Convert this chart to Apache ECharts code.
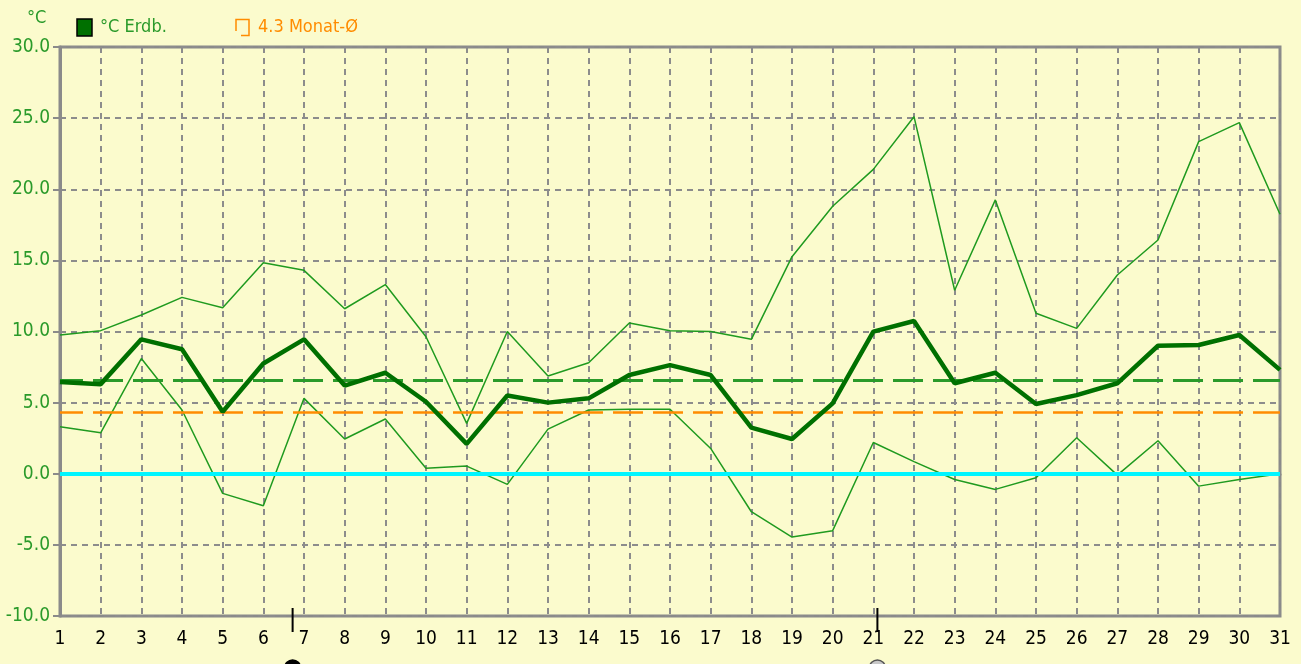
<!DOCTYPE html>
<html>
<head>
<meta charset="utf-8">
<script src="https://cdn.jsdelivr.net/npm/echarts@6/dist/echarts.min.js"></script>
<style>
html,body{margin:0;padding:0;background:#FBFBCD;}
#c{width:1301px;height:664px;}
</style>
</head>
<body>
<div id="c"></div>
<script>
var days = [];
for (var d = 1; d <= 31; d++) days.push(String(d));
var meanTemp = [6.45, 6.3, 9.45, 8.75, 4.36, 7.75, 9.45, 6.2, 7.1, 5.06, 2.1, 5.5, 5.0, 5.3, 6.94, 7.64, 6.94, 3.24, 2.44, 4.95, 9.99, 10.74, 6.36, 7.1, 4.9, 5.53, 6.36, 9.0, 9.05, 9.75, 7.3];
var maxTemp = [9.75, 10.06, 11.16, 12.4, 11.67, 14.84, 14.3, 11.6, 13.3, 9.63, 3.54, 10.0, 6.87, 7.8, 10.6, 10.06, 10.0, 9.45, 15.26, 18.8, 21.4, 25.1, 12.9, 19.25, 11.28, 10.22, 13.97, 16.43, 23.35, 24.68, 18.24];
var minTemp = [3.3, 2.88, 8.1, 4.48, -1.38, -2.25, 5.3, 2.44, 3.85, 0.38, 0.54, -0.75, 3.14, 4.48, 4.53, 4.53, 1.78, -2.67, -4.45, -4.0, 2.2, 0.85, -0.4, -1.1, -0.28, 2.53, -0.1, 2.32, -0.87, -0.4, 0.0];
var periodMean = 6.6;
var monthMean = 4.3;
var zeroLine = 0;
var yTicks = {min: -10, max: 30, step: 5};
var cursorDays = [6.72, 21.1];
var legendLabels = ['°C Erdb.', '4.3 Monat-Ø'];
var unitLabel = '°C';

var FONT = "'DejaVu Sans Condensed','Liberation Sans Narrow',sans-serif";
var chart = echarts.init(document.getElementById('c'));
var gridDash = {color: '#8C8C8C', width: 2, type: [6, 5]};

chart.setOption({
  backgroundColor: '#FBFBCD',
  animation: false,
  grid: {left: 60, right: 21, top: 47, bottom: 48, show: true, borderColor: '#8A8A8A', borderWidth: 3, backgroundColor: 'transparent'},
  xAxis: {
    type: 'category', data: days, boundaryGap: false,
    axisLine: {lineStyle: {color: '#8A8A8A', width: 3}},
    axisTick: {show: true, interval: 0, length: 6, lineStyle: {color: '#8A8A8A', width: 2}},
    axisLabel: {interval: 0, color: '#000', fontFamily: FONT, fontSize: 19, margin: 14},
    splitLine: {show: true, interval: 0, lineStyle: gridDash}
  },
  yAxis: {
    type: 'value', min: yTicks.min, max: yTicks.max, interval: yTicks.step,
    axisLine: {show: true, lineStyle: {color: '#8A8A8A', width: 3}},
    axisTick: {show: true, length: 7, lineStyle: {color: '#8A8A8A', width: 2}},
    axisLabel: {color: '#2A9A2A', fontFamily: FONT, fontSize: 19, margin: 10, formatter: function (v) { return v.toFixed(1); }},
    splitLine: {show: true, lineStyle: gridDash}
  },
  series: [
    {
      type: 'line', data: maxTemp, symbol: 'none', z: 3,
      lineStyle: {color: '#1F9A1F', width: 1.5}
    },
    {
      type: 'line', data: minTemp, symbol: 'none', z: 3,
      lineStyle: {color: '#1F9A1F', width: 1.5}
    },
    {
      type: 'line', data: meanTemp, symbol: 'none', z: 5,
      lineStyle: {color: '#007000', width: 4.5},
      markLine: {
        silent: true, symbol: 'none', label: {show: false},
        data: [
          {yAxis: zeroLine, lineStyle: {color: '#00F5FF', width: 4, type: 'solid'}},
          {yAxis: periodMean, lineStyle: {color: '#2A9A2A', width: 3, type: [30, 10], dashOffset: 7}},
          {yAxis: monthMean, lineStyle: {color: '#FF8C00', width: 2.5, type: [30, 10], dashOffset: 7}}
        ]
      }
    }
  ]
});

var p1 = chart.convertToPixel({gridIndex: 0}, [0, yTicks.min]);
var p31 = chart.convertToPixel({gridIndex: 0}, [30, yTicks.min]);
var gfx = [
  {type: 'text', left: 27, top: 9, style: {text: unitLabel, fill: '#2A9A2A', font: '18px ' + FONT}},
  {type: 'rect', shape: {x: 77, y: 19, width: 15, height: 17}, style: {fill: '#007000', stroke: '#000', lineWidth: 1.5}},
  {type: 'text', left: 100, top: 18, style: {text: legendLabels[0], fill: '#2A9A2A', font: '18px ' + FONT}},
  {type: 'polyline', shape: {points: [[236, 31], [236, 19.5], [249, 19.5], [249, 35.5], [241, 35.5]]}, style: {fill: 'none', stroke: '#FF8C00', lineWidth: 1.5}},
  {type: 'text', left: 258, top: 18, style: {text: legendLabels[1], fill: '#FF8C00', font: '18px ' + FONT}}
];
cursorDays.forEach(function (cd, i) {
  var x = p1[0] + (p31[0] - p1[0]) * (cd - 1) / 30;
  var yb = p1[1];
  gfx.push({type: 'line', shape: {x1: x, y1: yb - 8, x2: x, y2: yb + 16}, style: {stroke: '#000', lineWidth: 2}});
  gfx.push({type: 'circle', shape: {cx: x, cy: yb + 52, r: 8}, style: {fill: i === 0 ? '#000' : '#C8C8C8', stroke: i === 0 ? '#000' : '#555', lineWidth: 1.5}});
});
chart.setOption({graphic: gfx});
</script>
</body>
</html>
